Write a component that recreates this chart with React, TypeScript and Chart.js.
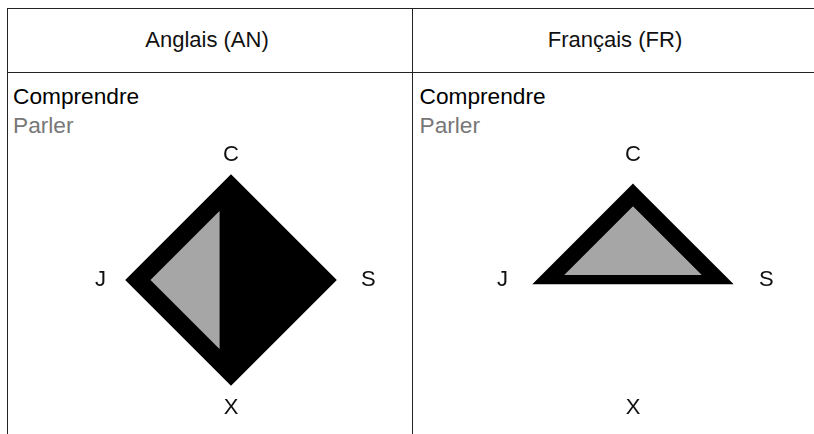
import React, { useEffect, useRef } from 'react';
import { Chart, registerables } from 'chart.js';

Chart.register(...registerables);

// ---- data ----
const axisLabels = ['C', 'S', 'X', 'J'];
const seriesNames = ['Comprendre', 'Parler'];
const languageNames = ['Anglais (AN)', 'Français (FR)'];
const anglaisComprendre = [95, 95, 95, 95];
const anglaisParler = [92, 0, 92, 92];
const francaisComprendre = [86, 86, 0, 86];
const francaisParler = [77, 77, 0, 77];
const scaleMax = 100;

const FONT = "'Liberation Sans', Arial, Helvetica, sans-serif";
const CANVAS_W = 364;
const CANVAS_H = 282;

// Parler is stroked only on the inside of its own outline (clip slightly
// enlarged so the clip edge falls on the black Comprendre area: no seam)
const innerStrokePlugin = {
  id: 'innerStroke',
  beforeDatasetDraw(chart: any, args: any) {
    const ds: any = chart.data.datasets[args.index];
    if (!ds.innerStroke) return;
    const pts = args.meta.data;
    const n = pts.length;
    let mx = 0;
    let my = 0;
    pts.forEach((p: any) => {
      mx += p.x / n;
      my += p.y / n;
    });
    const k = 1.06;
    const ctx = chart.ctx;
    ctx.save();
    ctx.beginPath();
    pts.forEach((p: any, i: number) => {
      const x = mx + (p.x - mx) * k;
      const y = my + (p.y - my) * k;
      if (i === 0) ctx.moveTo(x, y);
      else ctx.lineTo(x, y);
    });
    ctx.closePath();
    ctx.clip();
  },
  afterDatasetDraw(chart: any, args: any) {
    const ds: any = chart.data.datasets[args.index];
    if (!ds.innerStroke) return;
    chart.ctx.restore();
  },
};

type RadarProps = {
  comprendre: number[];
  parler: number[];
  parlerBorder: number;
  rightPad: number;
  left: number;
  top: number;
};

function Radar({ comprendre, parler, parlerBorder, rightPad, left, top }: RadarProps) {
  const ref = useRef<HTMLCanvasElement>(null);
  useEffect(() => {
    const chart = new Chart(ref.current as HTMLCanvasElement, {
      type: 'radar',
      data: {
        labels: axisLabels,
        datasets: [
          {
            label: seriesNames[0],
            data: comprendre,
            order: 1,
            backgroundColor: '#000000',
            borderColor: '#000000',
            borderWidth: 8.6,
            borderJoinStyle: 'miter',
            fill: true,
            pointRadius: 0,
            pointHoverRadius: 0,
          },
          {
            label: seriesNames[1],
            data: parler,
            order: 0,
            backgroundColor: '#a6a6a6',
            borderColor: '#000000',
            borderWidth: parlerBorder,
            borderJoinStyle: 'miter',
            fill: true,
            pointRadius: 0,
            pointHoverRadius: 0,
            innerStroke: true,
          } as any,
        ],
      },
      options: {
        responsive: false,
        animation: false,
        events: [],
        layout: { padding: 0 },
        plugins: {
          legend: { display: false },
          tooltip: { enabled: false },
          title: { display: false },
        },
        scales: {
          r: {
            min: 0,
            max: scaleMax,
            startAngle: 0,
            ticks: { display: false },
            grid: { display: false },
            angleLines: { display: false },
            pointLabels: {
              display: true,
              color: '#111111',
              font: { family: FONT, size: 22 },
              padding: (ctx: any) => [7, rightPad, 9.6, 20][ctx.index],
            },
          },
        },
      } as any,
      plugins: [innerStrokePlugin],
    });
    return () => chart.destroy();
  }, []);
  return (
    <canvas
      ref={ref}
      width={CANVAS_W}
      height={CANVAS_H}
      style={{ position: 'absolute', left, top, width: CANVAS_W, height: CANVAS_H }}
    />
  );
}

const lineColor = '#222222';

export default function App() {
  const text: React.CSSProperties = {
    position: 'absolute',
    fontFamily: FONT,
    fontSize: 22,
    lineHeight: '30px',
    whiteSpace: 'nowrap',
  };
  const legend: React.CSSProperties = { ...text, fontSize: 22.7 };
  return (
    <div
      style={{
        position: 'fixed',
        left: 0,
        top: 0,
        width: 814,
        height: 434,
        overflow: 'hidden',
        background: '#ffffff',
      }}
    >
      {/* table lines */}
      <div style={{ position: 'absolute', left: 7, top: 8, width: 820, height: 1, background: lineColor }} />
      <div style={{ position: 'absolute', left: 7, top: 72, width: 820, height: 1, background: lineColor }} />
      <div style={{ position: 'absolute', left: 7, top: 8, width: 1, height: 430, background: lineColor }} />
      <div style={{ position: 'absolute', left: 412, top: 8, width: 1, height: 430, background: lineColor }} />

      {/* headers */}
      <div style={{ ...text, left: 7, top: 25, width: 400, textAlign: 'center', color: '#111' }}>{languageNames[0]}</div>
      <div style={{ ...text, left: 415, top: 25, width: 400, textAlign: 'center', color: '#111' }}>{languageNames[1]}</div>

      {/* legends */}
      <div style={{ ...legend, left: 13, top: 80.5, color: '#000' }}>{seriesNames[0]}</div>
      <div style={{ ...legend, left: 13, top: 110, color: '#777' }}>{seriesNames[1]}</div>
      <div style={{ ...legend, left: 419.5, top: 80.5, color: '#000' }}>{seriesNames[0]}</div>
      <div style={{ ...legend, left: 419.5, top: 110, color: '#777' }}>{seriesNames[1]}</div>

      <Radar comprendre={anglaisComprendre} parler={anglaisParler} parlerBorder={22.8} rightPad={25} left={49} top={141} />
      <Radar comprendre={francaisComprendre} parler={francaisParler} parlerBorder={10} rightPad={21} left={451} top={141} />
    </div>
  );
}
